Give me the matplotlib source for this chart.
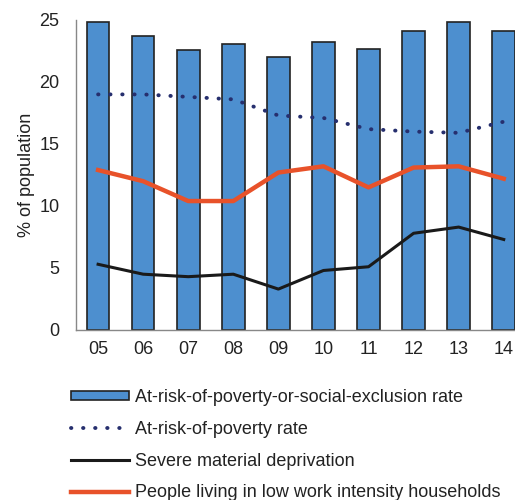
import matplotlib
matplotlib.use("Agg")
import matplotlib.pyplot as plt
from matplotlib.patches import Patch
from matplotlib.lines import Line2D

plt.rcParams['font.family'] = ['Liberation Sans', 'DejaVu Sans']

years = ['05', '06', '07', '08', '09', '10', '11', '12', '13', '14']
arope = [24.8, 23.7, 22.6, 23.1, 22.0, 23.2, 22.7, 24.1, 24.8, 24.1]
arop = [19.0, 19.0, 18.8, 18.6, 17.3, 17.1, 16.2, 16.0, 15.9, 16.8]
smd = [5.3, 4.5, 4.3, 4.5, 3.3, 4.8, 5.1, 7.8, 8.3, 7.3]
lwi = [12.9, 12.0, 10.4, 10.4, 12.7, 13.2, 11.5, 13.1, 13.2, 12.2]

bar_col = '#4d8fcf'
navy = '#262f6e'
orange = '#e8522a'
black = '#1a1a1a'
dots = (0, (0.1, 3.0))

fig = plt.figure(figsize=(5.15, 5.0), dpi=100)
ax = fig.add_axes([0.1476, 0.34, 0.8524, 0.62])

x = range(len(years))
ax.bar(x, arope, width=0.5, color=bar_col, edgecolor='#222222', linewidth=1.2, zorder=2)
ax.plot(x, arop, color=navy, lw=2.8, linestyle=dots, dash_capstyle='round', zorder=3)
ax.plot(x, smd, color=black, lw=2.2, zorder=3)
ax.plot(x, lwi, color=orange, lw=3.2, zorder=4)

ax.set_ylim(0, 25)
ax.set_xlim(-0.49, 9.25)
ax.set_yticks([0, 5, 10, 15, 20, 25])
ax.set_xticks(list(x))
ax.set_xticklabels(years)
ax.tick_params(length=0, labelsize=13, colors='#222222', pad=8)
ax.tick_params(axis='y', pad=12)
ax.set_ylabel('% of population', fontsize=13, color='#222222', labelpad=3)
for s in ['top', 'right']:
    ax.spines[s].set_visible(False)
for s in ['left', 'bottom']:
    ax.spines[s].set_color('#888888')
    ax.spines[s].set_linewidth(1.0)

handles = [
    Patch(facecolor=bar_col, edgecolor='#222222', linewidth=1.2),
    Line2D([], [], color=navy, lw=2.8, linestyle=dots, dash_capstyle='round'),
    Line2D([], [], color=black, lw=2.2),
    Line2D([], [], color=orange, lw=3.2),
]
labels = ['At-risk-of-poverty-or-social-exclusion rate',
          'At-risk-of-poverty rate',
          'Severe material deprivation',
          'People living in low work intensity households']
fig.legend(handles, labels, loc='upper left', bbox_to_anchor=(0.138, 0.222),
           frameon=False, fontsize=13, handlelength=3.2, handleheight=0.45,
           handletextpad=0.35, labelspacing=0.82, borderpad=0, borderaxespad=0,
           labelcolor='#222222')

fig.savefig('out.png', dpi=100)
